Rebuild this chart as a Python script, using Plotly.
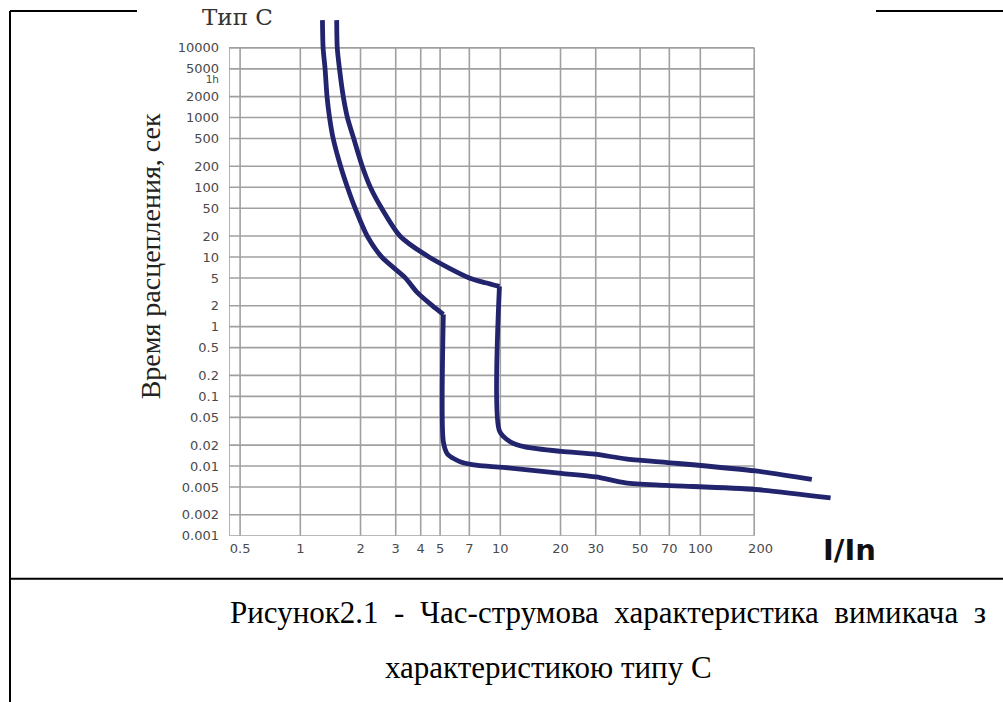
import math
import plotly.graph_objects as go

W = 1003
H = 711          # page height; the photographed page is mapped onto 702 rows
H_REF = 702      # reference picture height used for placing elements

# ---------------- data ----------------
x_tick_vals = [0.5, 1, 2, 3, 4, 5, 7, 10, 20, 30, 50, 70, 100, 200]
x_tick_text = ["0.5", "1", "2", "3", "4", "5", "7", "10", "20", "30", "50", "70", "100", "200"]
x_grid = [0.5, 1, 2, 3, 4, 5, 7, 10, 20, 30, 50, 70, 100]
grid_x_min, grid_x_max = 0.44, 186

y_tick_vals = [0.001, 0.002, 0.005, 0.01, 0.02, 0.05, 0.1, 0.2, 0.5, 1, 2, 5, 10, 20,
               50, 100, 200, 500, 1000, 2000, 3600, 5000, 10000]
y_tick_text = ["0.001", "0.002", "0.005", "0.01", "0.02", "0.05", "0.1", "0.2", "0.5", "1",
               "2", "5", "10", "20", "50", "100", "200", "500", "1000", "2000", "1h", "5000", "10000"]
y_grid = [0.001, 0.002, 0.005, 0.01, 0.02, 0.05, 0.1, 0.2, 0.5, 1, 2, 5, 10, 20,
          50, 100, 200, 500, 1000, 2000, 5000, 10000]
grid_y_min, grid_y_max = 0.001, 10000

# lower (left) boundary curve: thermal part (top -> corner), then magnetic part
lower_th_I = [1.29, 1.30, 1.33, 1.36, 1.40, 1.46, 1.59, 1.72, 1.88, 2.16, 2.55, 3.35, 3.84, 4.57, 5.19]
lower_th_t = [25000, 10000, 5000, 2000, 1000, 500, 200, 100, 50, 20, 10, 5, 3.1, 2, 1.5]
lower_mg_I = [5.19, 5.19, 5.45, 6.4, 7.7, 10.3, 20.2, 30.1, 42.3, 67.2, 189, 448]
lower_mg_t = [1.5, 0.0224, 0.0148, 0.0113, 0.0102, 0.0096, 0.00787, 0.00699, 0.00573,
              0.00529, 0.00461, 0.00349]

# upper (right) boundary curve
upper_th_I = [1.52, 1.53, 1.57, 1.64, 1.72, 1.85, 2.04, 2.24, 2.55, 3.15, 4.4, 7.0, 8.43, 9.9]
upper_th_t = [25000, 10000, 5000, 2000, 1000, 500, 200, 100, 50, 20, 10, 5, 4.26, 3.78]
upper_mg_I = [9.9, 9.9, 11.2, 13.3, 20.2, 29.7, 42.3, 67.2, 189, 361]
upper_mg_t = [3.78, 0.032, 0.0224, 0.0188, 0.0162, 0.0148, 0.0127, 0.0113, 0.0085, 0.00645]

title_text = "Тип С"
y_title = "Время расцепления, сек"
x_title = "I/In"
caption_1_words = ["Рисунок2.1", "-", "Час-струмова", "характеристика", "вимикача", "з"]
caption_2 = "характеристикою типу С"

# ---------------- layout helpers ----------------
def px(x):
    return x / W


def py(y):
    return 1 - y / H_REF


plot_l, plot_r, plot_t, plot_b = 229, 880, 10, 535
px_per_dec_x = 200.0
px_per_dec_y = 69.6

x_range = [math.log10(grid_x_min), math.log10(grid_x_min) + (plot_r - plot_l) / px_per_dec_x]
y_range = [math.log10(grid_y_min), math.log10(grid_y_min) + (plot_b - plot_t) / px_per_dec_y]

fig = go.Figure()

# grid lines as one trace
gx, gy = [], []
for xv in [grid_x_min] + x_grid + [grid_x_max]:
    gx += [xv, xv, None]
    gy += [grid_y_min, grid_y_max, None]
for yv in y_grid:
    gx += [grid_x_min, grid_x_max, None]
    gy += [yv, yv, None]
fig.add_trace(go.Scatter(x=gx, y=gy, mode="lines", line=dict(color="#a0a0a0", width=1.6),
                         hoverinfo="skip", showlegend=False))

curve_color = "#22246e"
for xs, ys in [(lower_th_I, lower_th_t), (lower_mg_I, lower_mg_t),
               (upper_th_I, upper_th_t), (upper_mg_I, upper_mg_t)]:
    fig.add_trace(go.Scatter(x=xs, y=ys, mode="lines",
                             line=dict(color=curve_color, width=4.8, shape="spline", smoothing=0.7),
                             showlegend=False, cliponaxis=False))

tick_font = dict(family="DejaVu Sans", size=13, color="#4a4a4a")
y_tick_text_fmt = ['<span style="font-size:10.5px">' + t + '</span>' if t == "1h" else t
                   for t in y_tick_text]

fig.update_layout(
    width=W, height=H,
    margin=dict(l=0, r=0, t=0, b=0),
    paper_bgcolor="white", plot_bgcolor="rgba(0,0,0,0)",
    showlegend=False,
    xaxis=dict(type="log", range=x_range, domain=[px(plot_l), px(plot_r)],
               tickmode="array", tickvals=x_tick_vals, ticktext=x_tick_text,
               showgrid=False, zeroline=False, showline=False, ticks="",
               tickfont=tick_font, ticklabelstandoff=3),
    yaxis=dict(type="log", range=y_range, domain=[py(plot_b), py(plot_t)],
               tickmode="array", tickvals=y_tick_vals, ticktext=y_tick_text_fmt,
               showgrid=False, zeroline=False, showline=False, ticks="",
               tickfont=tick_font, ticklabelstandoff=9),
)

caption_1 = " \u00a0".join(caption_1_words)

ann = []
ann.append(dict(text=title_text, x=px(237), y=py(17), xref="paper", yref="paper",
                showarrow=False, xanchor="center", yanchor="middle",
                font=dict(family="DejaVu Serif", size=23, color="#333333")))
ann.append(dict(text=y_title, x=px(150), y=py(256), xref="paper", yref="paper",
                showarrow=False, xanchor="center", yanchor="middle", textangle=-90,
                font=dict(family="Liberation Serif", size=28, color="#222222")))
ann.append(dict(text="<b>" + x_title + "</b>", x=px(849), y=py(549), xref="paper", yref="paper",
                showarrow=False, xanchor="center", yanchor="middle",
                font=dict(family="DejaVu Sans", size=29, color="#111111")))
ann.append(dict(text=caption_1, x=px(228), y=py(612), xref="paper", yref="paper",
                showarrow=False, xanchor="left", yanchor="middle",
                font=dict(family="Liberation Serif", size=31, color="#000000")))
ann.append(dict(text=caption_2, x=px(548), y=py(667), xref="paper", yref="paper",
                showarrow=False, xanchor="center", yanchor="middle",
                font=dict(family="Liberation Serif", size=31, color="#000000")))
fig.update_layout(annotations=ann)

# document frame lines
frame = [
    (10, 11, 137, 11),
    (876, 11, 1003, 11),
    (10, 11, 10, H_REF),
    (10, 578, 1003, 578),
]
shapes = []
for x0, y0, x1, y1 in frame:
    shapes.append(dict(type="line", xref="paper", yref="paper",
                       x0=px(x0), y0=py(y0), x1=px(x1), y1=py(y1),
                       line=dict(color="black", width=2)))
fig.update_layout(shapes=shapes)

fig.write_html("out.html", config={"displayModeBar": False},
               post_script="document.body.style.margin='0';document.body.style.overflow='hidden';")
